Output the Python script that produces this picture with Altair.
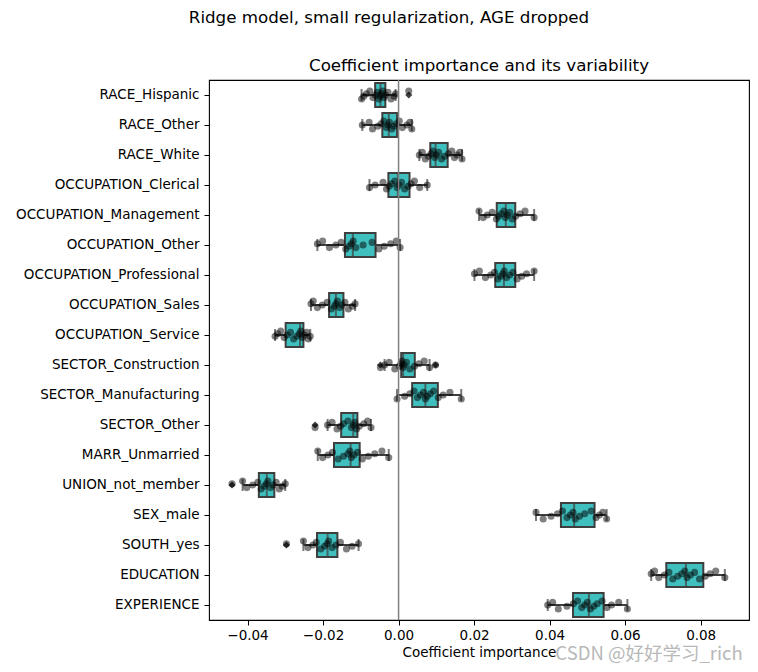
import altair as alt
import pandas as pd

features = ["RACE_Hispanic", "RACE_Other", "RACE_White", "OCCUPATION_Clerical",
            "OCCUPATION_Management", "OCCUPATION_Other", "OCCUPATION_Professional",
            "OCCUPATION_Sales", "OCCUPATION_Service", "SECTOR_Construction",
            "SECTOR_Manufacturing", "SECTOR_Other", "MARR_Unmarried", "UNION_not_member",
            "SEX_male", "SOUTH_yes", "EDUCATION", "EXPERIENCE"]

# box statistics (x 1e-3)
whisk_lo = [-9.8, -9.6, 5.5, -7.7, 21.3, -21.5, 20.1, -23.2, -32.7, -3.7, -0.4, -18.8, -21.4, -41.3, 36.4, -25.2, 66.9, 39.5]
q1 = [-6.2, -4.3, 8.4, -2.7, 26.0, -14.2, 25.6, -18.4, -29.9, 0.7, 3.6, -15.2, -17.1, -37.0, 43.0, -21.6, 70.9, 46.2]
median = [-4.8, -2.6, 9.8, -0.2, 28.4, -12.1, 27.9, -16.6, -26.1, 1.2, 7.1, -12.0, -12.7, -34.9, 46.5, -18.8, 76.1, 50.4]
q3 = [-3.5, -0.4, 13.0, 2.9, 30.9, -6.1, 30.9, -14.6, -25.2, 4.3, 10.4, -10.9, -10.3, -32.9, 51.9, -16.2, 80.7, 54.3]
whisk_hi = [-0.8, 3.5, 16.8, 7.6, 35.9, 0.4, 35.9, -11.5, -23.4, 8.2, 16.6, -7.3, -2.6, -30.0, 55.1, -10.6, 86.4, 60.6]

outlier_feature = ["RACE_Hispanic", "SECTOR_Construction", "SECTOR_Construction", "SECTOR_Other", "UNION_not_member", "SOUTH_yes"]
outlier_value = [2.7, -4.8, 9.8, -22.1, -44.1, -29.7]

# individual coefficient samples (x 1e-3)
samples = {
    "RACE_Hispanic": [-9.8, -9.2, -8.5, -7.6, -6.8, -6.2, -5.6, -5.2, -4.9, -4.6, -4.2, -3.8, -3.4, -2.8, -2.0, -1.2, -0.8, 2.7],
    "RACE_Other": [-9.6, -7.8, -6.9, -5.5, -4.6, -3.9, -3.2, -2.8, -2.4, -1.8, -1.2, -0.6, 0.2, 1.0, 2.2, 3.0, 3.5],
    "RACE_White": [5.5, 6.3, 7.1, 7.9, 8.6, 9.1, 9.6, 10.0, 10.6, 11.4, 12.2, 13.2, 14.1, 14.8, 15.5, 16.2, 16.8],
    "OCCUPATION_Clerical": [-7.7, -6.2, -4.1, -3.2, -2.5, -1.8, -1.0, -0.4, 0.1, 0.8, 1.6, 2.5, 3.3, 4.2, 5.6, 7.6],
    "OCCUPATION_Management": [21.3, 22.4, 23.5, 24.8, 25.9, 26.5, 27.2, 27.9, 28.3, 28.8, 29.4, 30.1, 31.0, 32.2, 33.5, 35.9],
    "OCCUPATION_Other": [-21.5, -20.1, -18.3, -16.6, -15.2, -14.0, -13.1, -12.5, -12.0, -11.3, -9.4, -7.0, -5.2, -3.8, -2.1, -0.6, 0.4],
    "OCCUPATION_Professional": [20.1, 21.4, 23.0, 24.4, 25.4, 26.3, 27.0, 27.6, 28.0, 28.6, 29.4, 30.3, 31.4, 32.6, 33.9, 35.9],
    "OCCUPATION_Sales": [-23.2, -22.6, -21.5, -20.2, -18.9, -17.8, -17.0, -16.6, -16.2, -15.6, -15.0, -14.2, -13.3, -12.2, -11.5],
    "OCCUPATION_Service": [-32.7, -32.0, -31.2, -30.3, -29.5, -28.6, -27.8, -26.9, -26.3, -25.9, -25.4, -24.9, -24.4, -23.9, -23.4],
    "SECTOR_Construction": [-4.8, -3.7, -2.5, -1.0, 0.2, 0.6, 0.9, 1.2, 1.5, 2.1, 3.0, 4.2, 5.4, 6.8, 8.2, 9.8],
    "SECTOR_Manufacturing": [-0.4, 1.6, 3.0, 4.1, 5.0, 5.8, 6.6, 7.1, 7.6, 8.4, 9.3, 10.5, 11.8, 13.6, 16.6],
    "SECTOR_Other": [-22.1, -18.8, -17.6, -16.3, -15.4, -14.6, -13.4, -12.5, -12.0, -11.6, -11.1, -10.4, -9.2, -8.2, -7.3],
    "MARR_Unmarried": [-21.4, -20.1, -18.7, -17.5, -16.0, -14.6, -13.4, -12.9, -12.5, -11.8, -10.9, -9.6, -8.0, -6.3, -4.4, -2.6],
    "UNION_not_member": [-44.1, -41.3, -40.2, -38.6, -37.3, -36.4, -35.6, -35.0, -34.6, -33.9, -33.2, -32.4, -31.6, -30.8, -30.0],
    "SEX_male": [36.4, 38.3, 40.4, 42.1, 43.4, 44.6, 45.5, 46.2, 46.8, 47.9, 49.3, 51.0, 52.3, 53.2, 54.1, 55.1],
    "SOUTH_yes": [-29.7, -25.2, -24.0, -22.7, -21.8, -20.6, -19.6, -18.9, -18.5, -17.6, -16.6, -15.4, -13.8, -12.3, -10.6],
    "EDUCATION": [66.9, 67.8, 68.9, 70.4, 71.6, 72.6, 73.9, 75.0, 75.8, 76.4, 77.3, 78.4, 79.7, 81.2, 82.5, 84.0, 86.4],
    "EXPERIENCE": [39.5, 40.8, 42.3, 44.6, 46.3, 47.4, 48.5, 49.3, 50.0, 50.8, 51.7, 52.6, 53.9, 55.2, 56.4, 58.3, 60.6],
}

x_ticks = [-0.04, -0.02, 0.0, 0.02, 0.04, 0.06, 0.08]
suptitle = "Ridge model, small regularization, AGE dropped"
title = "Coefficient importance and its variability"
x_label = "Coefficient importance"
watermark = "CSDN @好好学习_rich"

# ---- tables ----
stats = pd.DataFrame({
    "feature": features,
    "lo": [v / 1000 for v in whisk_lo],
    "q1": [v / 1000 for v in q1],
    "med": [v / 1000 for v in median],
    "q3": [v / 1000 for v in q3],
    "hi": [v / 1000 for v in whisk_hi],
})
rows = []
for f in features:
    for i, v in enumerate(samples[f]):
        # deterministic strip-plot jitter (unitless, -3..3)
        rows.append({"feature": f, "value": v / 1000, "jit": (i * 5 + len(f)) % 7 - 3})
pts = pd.DataFrame(rows)
outl = pd.DataFrame({"feature": outlier_feature, "value": [v / 1000 for v in outlier_value]})

FONT = "DejaVu Sans"
LINE = "#3f3f3f"

y_enc = alt.Y("feature:N", sort=features, title=None,
              scale=alt.Scale(type="band", paddingInner=0, paddingOuter=0),
              axis=alt.Axis(labelFont=FONT, labelFontSize=13.5, labelColor="black",
                            tickColor="black", tickSize=5, tickWidth=1, labelPadding=5,
                            labelLimit=400, domain=False, grid=False))
x_scale = alt.Scale(domain=[-0.0502, 0.0928], nice=False, zero=False)
x_axis = alt.Axis(values=x_ticks, format=".2f", labelFont=FONT, labelFontSize=13.5,
                  labelColor="black", tickColor="black", tickSize=5, tickWidth=1, labelPadding=3,
                  titleFont=FONT, titleFontSize=13.5, titleFontWeight="normal",
                  titleColor="black", titlePadding=4, domain=False, grid=False)

yb = alt.Y("feature:N", sort=features)

base = alt.Chart(stats)
whisk = base.mark_rule(color=LINE, strokeWidth=2).encode(
    x=alt.X("lo:Q", scale=x_scale, axis=x_axis, title=x_label), x2="hi:Q", y=y_enc)
caps_lo = base.mark_tick(color=LINE, size=12, thickness=2, orient="vertical").encode(x="lo:Q", y=yb)
caps_hi = base.mark_tick(color=LINE, size=12, thickness=2, orient="vertical").encode(x="hi:Q", y=yb)
box = base.mark_bar(size=24, fill="#40bfbf", stroke=LINE, strokeWidth=2).encode(
    x="q1:Q", x2="q3:Q", y=yb)
med = base.mark_tick(color=LINE, size=24, thickness=2, orient="vertical").encode(x="med:Q", y=yb)
outliers = alt.Chart(outl).mark_point(shape="diamond", filled=True, color=LINE,
                                       size=50, opacity=1).encode(
    x="value:Q", y=alt.Y("feature:N", sort=features, bandPosition=0.5))
points = alt.Chart(pts).mark_circle(color="black", opacity=0.5, size=50).encode(
    x="value:Q", y=yb,
    yOffset=alt.YOffset("jit:Q", scale=alt.Scale(domain=[-11.5, 11.5], range=[0, 30])))
zero = alt.Chart(pd.DataFrame({"x": [0.0]})).mark_rule(color="#808080", strokeWidth=1.5).encode(x="x:Q")

sup = alt.Chart(pd.DataFrame({"t": [suptitle]})).mark_text(
    font=FONT, fontSize=16.7, color="black", baseline="middle", align="center").encode(
    text="t:N", x=alt.value(180), y=alt.value(-62))
ttl = alt.Chart(pd.DataFrame({"t": [title]})).mark_text(
    font=FONT, fontSize=16.7, color="black", baseline="middle", align="center").encode(
    text="t:N", x=alt.value(270), y=alt.value(-14))
wm = alt.Chart(pd.DataFrame({"t": [watermark]})).mark_text(
    font="Noto Sans CJK SC", fontSize=18.5, color="#b8b8b8", baseline="middle", align="center").encode(
    text="t:N", x=alt.value(440), y=alt.value(574))

chart = alt.layer(whisk, caps_lo, caps_hi, box, med, outliers, points, zero, sup, ttl, wm).properties(
    width=540, height=540,
    background="white",
    autosize=alt.AutoSizeParams(type="none"),
    padding={"left": 201, "top": 72, "right": 1, "bottom": 50},
).configure_view(stroke="black", strokeWidth=1.1)

chart.save("out.html", embed_options={"renderer": "svg", "actions": False})
